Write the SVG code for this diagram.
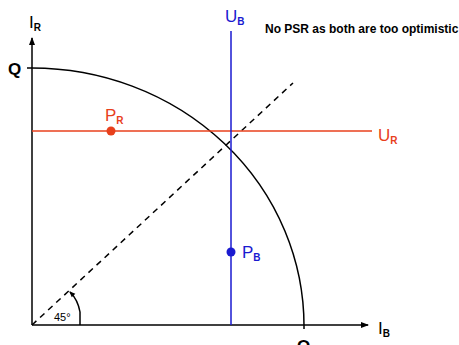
<svg xmlns="http://www.w3.org/2000/svg" width="459" height="345" viewBox="0 0 459 345">
<defs>
<marker id="ah" markerWidth="8" markerHeight="6" refX="7" refY="3" orient="auto" markerUnits="userSpaceOnUse">
<path d="M0,0 L8,3 L0,6 Z" fill="#000"/>
</marker>
<marker id="ah2" markerWidth="6" markerHeight="6" refX="5" refY="3" orient="auto" markerUnits="userSpaceOnUse">
<path d="M0,0.5 L6,3 L0,5.5 Z" fill="#000"/>
</marker>
</defs>
<style>
text{font-family:"Liberation Sans",Arial,sans-serif}
.lbl{font-size:17px;fill:#000}
.sub{font-size:10px;font-weight:bold}
.red{fill:#e8401c}
.blue{fill:#1a1ad0}
</style>
<rect width="459" height="345" fill="#fff"/>
<g id="connectors" fill="none">
<line x1="32" y1="325" x2="32" y2="38" stroke="#000" stroke-width="1.5" marker-end="url(#ah)"/>
<line x1="32" y1="325" x2="368" y2="325" stroke="#000" stroke-width="1.5" marker-end="url(#ah)"/>
<line x1="27" y1="68" x2="32" y2="68" stroke="#000" stroke-width="1.5"/>
<path d="M32,68 A272,258 0 0 1 304,326 L304,329" stroke="#000" stroke-width="1.5"/>
<line x1="32" y1="325" x2="293" y2="83" stroke="#000" stroke-width="1.5" stroke-dasharray="6,5"/>
<path d="M80,325 L80,312 Q78,300 70,292" stroke="#000" stroke-width="1.5" marker-end="url(#ah2)"/>
<line x1="32" y1="131" x2="372" y2="131" stroke="#e8401c" stroke-width="1.5"/>
<line x1="231" y1="31" x2="231" y2="325" stroke="#1a1ad0" stroke-width="1.5"/>
</g>
<g id="PR">
<circle cx="111" cy="131" r="4.5" fill="#e8401c"/>
<text x="105" y="121" class="red" font-size="17">P<tspan class="sub" dy="3">R</tspan></text>
</g>
<g id="PB">
<circle cx="231" cy="252" r="4.5" fill="#1a1ad0"/>
<text x="242" y="258" class="blue" font-size="17">P<tspan class="sub" dy="3">B</tspan></text>
</g>
<g id="UB">
<text x="225" y="22" class="blue" font-size="17">U<tspan class="sub" dy="3">B</tspan></text>
</g>
<g id="UR">
<text x="378" y="141" class="red" font-size="17">U<tspan class="sub" dy="3">R</tspan></text>
</g>
<g id="IR">
<text x="29" y="28" class="lbl">I<tspan class="sub" dy="3">R</tspan></text>
</g>
<g id="IB">
<text x="378" y="334" class="lbl">I<tspan class="sub" dy="3">B</tspan></text>
</g>
<g id="Q1">
<text x="8" y="75" class="lbl" font-weight="bold">Q</text>
</g>
<g id="Q2">
<text x="297" y="352" class="lbl" font-weight="bold">Q</text>
</g>
<g id="angle">
<text x="54" y="321" font-size="11" fill="#000">45°</text>
</g>
<g id="note">
<text x="265" y="33" font-size="12" font-weight="bold" fill="#000">No PSR as both are too optimistic</text>
</g>
</svg>
